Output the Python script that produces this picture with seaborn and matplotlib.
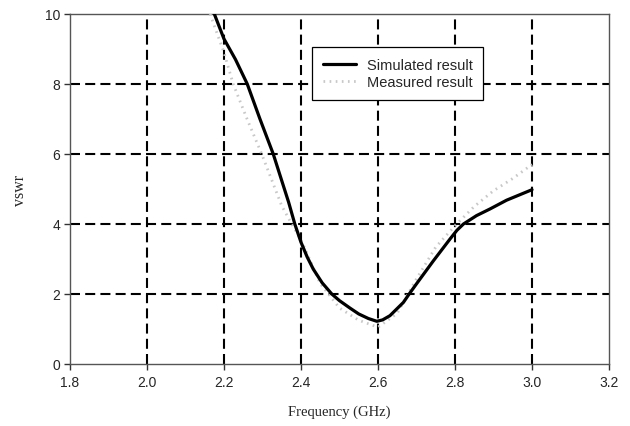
import matplotlib
matplotlib.use("Agg")
import matplotlib.pyplot as plt
import seaborn as sns
import pandas as pd

sim_freq = [2.175, 2.2, 2.23, 2.2605, 2.2935, 2.328, 2.35, 2.368, 2.384, 2.4, 2.416, 2.432,
            2.455, 2.48, 2.5, 2.527, 2.55, 2.575, 2.597, 2.612, 2.631, 2.666, 2.681, 2.7,
            2.744, 2.787, 2.805, 2.822, 2.856, 2.891, 2.934, 3.0]
sim_vswr = [10.0, 9.29, 8.7, 8.0, 7.0, 6.0, 5.24, 4.62, 4.0, 3.48, 3.06, 2.71,
            2.32, 2.0, 1.81, 1.6, 1.43, 1.3, 1.22, 1.26, 1.38, 1.76, 2.0, 2.29,
            2.95, 3.57, 3.82, 4.0, 4.24, 4.43, 4.68, 4.98]

meas_freq = [2.164, 2.2, 2.224, 2.26, 2.298, 2.35, 2.376, 2.4, 2.45, 2.5, 2.55, 2.6,
             2.65, 2.7, 2.75, 2.8, 2.85, 2.9, 2.95, 3.0]
meas_vswr = [10.0, 8.9, 8.0, 7.0, 6.0, 4.52, 4.0, 3.55, 2.3, 1.6, 1.25, 1.05,
             1.45, 2.43, 3.34, 3.95, 4.5, 4.95, 5.3, 5.7]

x_ticks = [1.8, 2.0, 2.2, 2.4, 2.6, 2.8, 3.0, 3.2]
y_ticks = [0, 2, 4, 6, 8, 10]
series_names = ["Simulated result", "Measured result"]

sns.set_style("white")
plt.rcParams['font.family'] = ['Liberation Sans', 'DejaVu Sans']

fig = plt.figure(figsize=(6.3, 4.27), dpi=100)
ax = fig.add_axes([0.111, 0.1452, 0.8557, 0.8197])

sim_df = pd.DataFrame({"Frequency": sim_freq, "VSWR": sim_vswr})
meas_df = pd.DataFrame({"Frequency": meas_freq, "VSWR": meas_vswr})

# grid lines
grid_ls = (0, (4.8, 2.5))
for xv in x_ticks[1:-1]:
    ax.axvline(xv, color="black", lw=1.5, ls=grid_ls, zorder=1)
for yv in y_ticks[1:-1]:
    ax.axhline(yv, color="black", lw=1.5, ls=grid_ls, zorder=1)

sns.lineplot(data=meas_df, x="Frequency", y="VSWR", ax=ax, sort=False,
             color="#c8c8c8", lw=2.0, ls=(0, (0.6, 1.6)), label=series_names[1], zorder=3)
sns.lineplot(data=sim_df, x="Frequency", y="VSWR", ax=ax, sort=False,
             color="black", lw=2.3, label=series_names[0], zorder=4)

ax.set_xlim(1.8, 3.2)
ax.set_ylim(0, 10)
ax.set_xticks(x_ticks)
ax.set_xticklabels([f"{v:.1f}" for v in x_ticks])
ax.set_yticks(y_ticks)
ax.set_yticklabels([str(v) for v in y_ticks])
ax.tick_params(axis="x", direction="out", length=4, width=1, color="#333333",
               labelsize=10, pad=4)
ax.tick_params(axis="y", direction="out", length=4, width=1, color="#333333",
               labelsize=10, pad=3)
ax.tick_params(bottom=True, left=True)

for side in ["top", "right", "left", "bottom"]:
    ax.spines[side].set_visible(True)
    ax.spines[side].set_color("#555555")
    ax.spines[side].set_linewidth(1.0)

ax.set_xlabel("Frequency (GHz)", family=["Liberation Serif", "DejaVu Serif"], fontsize=10.5, labelpad=11)
ax.set_ylabel("vswr", family=["Liberation Serif", "DejaVu Serif"], fontsize=11.5, labelpad=12)

handles, labels = ax.get_legend_handles_labels()
order = [labels.index(series_names[0]), labels.index(series_names[1])]
leg = ax.legend([handles[i] for i in order], [labels[i] for i in order],
                loc="upper left", bbox_to_anchor=(0.449, 0.906), borderaxespad=0,
                fontsize=10.5, frameon=True, fancybox=False, edgecolor="black", framealpha=1,
                handlelength=2.3, borderpad=0.75, labelspacing=0.2, handletextpad=0.7)
leg.get_frame().set_linewidth(0.9)

fig.savefig("out.png", dpi=100)
